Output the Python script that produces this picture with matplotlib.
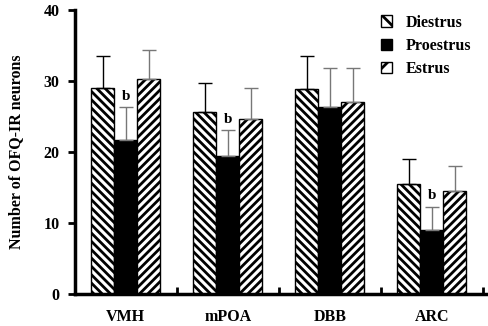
import numpy as np
import matplotlib.pyplot as plt
from matplotlib.patches import Patch

# Data
regions = ['VMH', 'mPOA', 'DBB', 'ARC']
diestrus = [29.0, 25.6, 28.9, 15.5]
diestrus_err = [4.5, 4.1, 4.6, 3.5]
proestrus = [21.7, 19.4, 26.3, 9.0]
proestrus_err = [4.6, 3.7, 5.5, 3.3]
estrus = [30.3, 24.6, 27.0, 14.5]
estrus_err = [4.1, 4.4, 4.8, 3.5]
sig_labels = ['b', 'b', '', 'b']

plt.rcParams['font.family'] = ['Liberation Serif', 'DejaVu Serif']
plt.rcParams['font.weight'] = 'bold'
plt.rcParams['hatch.linewidth'] = 2.0

fig = plt.figure(figsize=(4.89, 3.26), dpi=100)
ax = fig.add_axes([0.153, 0.098, 0.845, 0.871])

x = np.arange(len(regions))
w = 0.225

ax.bar(x - w, diestrus, w, color='white', edgecolor='black', hatch='\\\\\\\\', linewidth=1)
ax.bar(x, proestrus, w, color='black', edgecolor='black', linewidth=1)
ax.bar(x + w, estrus, w, color='white', edgecolor='black', hatch='////', linewidth=1)

# upper error bars only
ax.errorbar(x - w, diestrus, yerr=[np.zeros(4), diestrus_err], fmt='none',
            ecolor='black', elinewidth=1, capsize=5, capthick=1)
ax.errorbar(x, proestrus, yerr=[np.zeros(4), proestrus_err], fmt='none',
            ecolor='#777777', elinewidth=1, capsize=5, capthick=1)
ax.errorbar(x + w, estrus, yerr=[np.zeros(4), estrus_err], fmt='none',
            ecolor='#777777', elinewidth=1, capsize=5, capthick=1)

for i, lab in enumerate(sig_labels):
    if lab:
        ax.text(x[i], proestrus[i] + proestrus_err[i] + 0.6, lab,
                ha='center', va='bottom', fontsize=11, fontweight='bold')

ax.set_xlim(-0.5, 3.55)
ax.set_ylim(0, 40)
ax.set_yticks([0, 10, 20, 30, 40])
ax.set_xticks(x)
ax.set_xticklabels(regions, fontsize=11.5, fontweight='bold')
ax.tick_params(axis='x', length=0, pad=11)
ax.set_xticks([0.5, 1.5, 2.5, 3.5], minor=True)
ax.tick_params(axis='x', which='minor', direction='in', length=5, width=2)
ax.tick_params(axis='y', direction='out', length=5, width=2, labelsize=11.5, pad=6)
for t in ax.get_yticklabels():
    t.set_fontweight('bold')

ax.spines['top'].set_visible(False)
ax.spines['right'].set_visible(False)
ax.spines['left'].set_linewidth(2.5)
ax.spines['bottom'].set_linewidth(2.5)

ax.set_ylabel('Number of OFQ-IR neurons', fontsize=11.5, fontweight='bold', labelpad=14)

handles = [Patch(facecolor='white', edgecolor='black', hatch='\\\\'),
           Patch(facecolor='black', edgecolor='black'),
           Patch(facecolor='white', edgecolor='black', hatch='//')]
ax.legend(handles, ['Diestrus', 'Proestrus', 'Estrus'], loc='upper right',
          bbox_to_anchor=(0.995, 1.035), frameon=False,
          prop={'weight': 'bold', 'size': 11.5}, handlelength=0.7, handleheight=0.7,
          labelspacing=0.45, handletextpad=0.9)

plt.savefig('out.png', dpi=100)
